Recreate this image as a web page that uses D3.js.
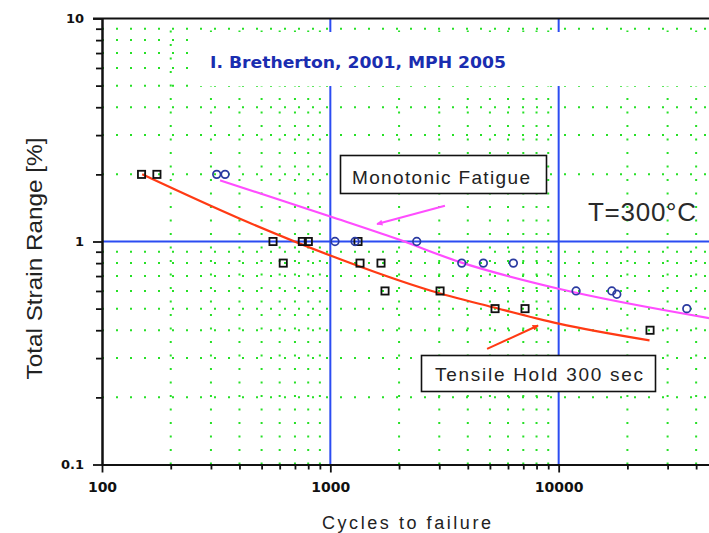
<!DOCTYPE html>
<html>
<head>
<meta charset="utf-8">
<script src="https://cdn.jsdelivr.net/npm/d3@7"></script>
<style>
  html, body { margin: 0; padding: 0; background: #fff; }
  svg { display: block; }
</style>
</head>
<body>
<svg id="chart" width="709" height="533"></svg>
<script>
// Tensile hold 300 s tests (open squares)
const holdCycles = [149, 174, 561, 622, 754, 801, 1322, 1349, 1667, 1736, 3024, 5265, 7124, 25130];
const holdStrain = [2.0, 2.0, 1.0, 0.8, 1.0, 1.0, 1.0, 0.8, 0.8, 0.6, 0.6, 0.5, 0.5, 0.4];

// Monotonic fatigue tests (open circles)
const monoCycles = [318, 346, 1048, 1283, 2390, 3763, 4679, 6333, 11920, 17090, 17970, 36400];
const monoStrain = [2.0, 2.0, 1.0, 1.0, 1.0, 0.8, 0.8, 0.8, 0.6, 0.6, 0.58, 0.5];

// Fitted curves
const holdFitCycles = [150, 402, 1000, 2734, 5160, 10000, 25000];
const holdFitStrain = [2.0, 1.264, 0.865, 0.603, 0.507, 0.428, 0.36];
const monoFitCycles = [329, 1000, 1953, 3698, 10000, 46000];
const monoFitStrain = [1.88, 1.295, 1.028, 0.808, 0.614, 0.453];

// Axis ticks
const xMajorTicks = [100, 1000, 10000];
const xTickLabels = ["100", "1000", "10000"];
const yMajorTicks = [0.1, 1, 10];
const yTickLabels = ["0.1", "1", "10"];
const xDecades = [100, 1000, 10000];
const yDecades = [0.1, 1];
const minorSteps = [2, 3, 4, 5, 6, 7, 8, 9];

// Annotations
const monoArrow = { from: [3177, 1.447], to: [1601, 1.198] };
const holdArrow = { from: [4858, 0.330], to: [8125, 0.420] };

(function draw() {
  const W = 709, H = 533;
  const svg = d3.select("#chart");

  const x = d3.scaleLog().domain([100, 100000]).range([102, 787]);
  const y = d3.scaleLog().domain([0.1, 10]).range([464.5, 18.5]);

  const xMinor = xDecades.flatMap(d => minorSteps.map(s => d * s));
  const yMinor = yDecades.flatMap(d => minorSteps.map(s => d * s));

  const pLeft = x.range()[0], pRight = W;
  const pTop = y.range()[1], pBottom = y.range()[0];

  const GREEN = "#27e027", BLUE = "#2b4cf2";

  // Dotted green grid
  const grid = svg.append("g");
  grid.selectAll("line.v").data(xMinor).join("line").attr("class", "v")
    .attr("x1", d => x(d)).attr("x2", d => x(d))
    .attr("y1", pBottom).attr("y2", pTop)
    .attr("stroke", GREEN).attr("stroke-width", 2)
    .attr("stroke-dasharray", "2,11.5");
  grid.selectAll("line.h").data(yMinor).join("line").attr("class", "h")
    .attr("x1", pLeft).attr("x2", pRight)
    .attr("y1", d => y(d)).attr("y2", d => y(d))
    .attr("stroke", GREEN).attr("stroke-width", 2)
    .attr("stroke-dasharray", "2,12");

  // Blue decade lines
  svg.append("g").selectAll("line").data([1000, 10000]).join("line")
    .attr("x1", d => x(d)).attr("x2", d => x(d))
    .attr("y1", pTop).attr("y2", pBottom)
    .attr("stroke", BLUE).attr("stroke-width", 2);
  svg.append("line")
    .attr("x1", pLeft).attr("x2", pRight)
    .attr("y1", y(1)).attr("y2", y(1))
    .attr("stroke", BLUE).attr("stroke-width", 2);

  // Title panel
  svg.append("rect").attr("x", 195).attr("y", 32).attr("width", 520).attr("height", 54).attr("fill", "#fff");
  svg.append("text")
    .attr("x", 210).attr("y", 68)
    .attr("font-family", "DejaVu Sans, sans-serif").attr("font-weight", "bold")
    .attr("font-size", 16.5).attr("fill", "#1a2db0")
    .attr("textLength", 296).attr("lengthAdjust", "spacingAndGlyphs")
    .text("I. Bretherton, 2001, MPH 2005");

  // Fit curves
  const line = d3.line().x(d => x(d[0])).y(d => y(d[1])).curve(d3.curveMonotoneX);
  svg.append("path")
    .datum(monoFitCycles.map((c, i) => [c, monoFitStrain[i]]))
    .attr("d", line).attr("fill", "none")
    .attr("stroke", "#ff4dff").attr("stroke-width", 2.2);
  svg.append("path")
    .datum(holdFitCycles.map((c, i) => [c, holdFitStrain[i]]))
    .attr("d", line).attr("fill", "none")
    .attr("stroke", "#ff3a14").attr("stroke-width", 2.2);

  // Markers
  svg.append("g").selectAll("rect")
    .data(holdCycles.map((c, i) => [c, holdStrain[i]]))
    .join("rect")
    .attr("x", d => x(d[0]) - 3.6).attr("y", d => y(d[1]) - 3.6)
    .attr("width", 7.2).attr("height", 7.2)
    .attr("fill", "none").attr("stroke", "#111").attr("stroke-width", 1.8);
  svg.append("g").selectAll("ellipse")
    .data(monoCycles.map((c, i) => [c, monoStrain[i]]))
    .join("ellipse")
    .attr("cx", d => x(d[0])).attr("cy", d => y(d[1]))
    .attr("rx", 3.8).attr("ry", 3.8)
    .attr("fill", "none").attr("stroke", "#2a3aa0").attr("stroke-width", 1.7);

  // Annotation boxes
  function labelBox(bx, by, bw, bh, tx, ty, tlen, size, txt) {
    svg.append("rect").attr("x", bx).attr("y", by).attr("width", bw).attr("height", bh)
      .attr("fill", "#fff").attr("stroke", "#111").attr("stroke-width", 1.6);
    svg.append("text").attr("x", tx).attr("y", ty)
      .attr("font-family", "Liberation Sans, Arial, sans-serif").attr("font-size", size)
      .attr("fill", "#222").attr("textLength", tlen).attr("lengthAdjust", "spacing")
      .text(txt);
  }
  labelBox(340.5, 155.5, 206, 38, 352, 184, 178, 19, "Monotonic Fatigue");
  labelBox(421.5, 355.5, 234, 36, 435, 381, 208, 19, "Tensile Hold 300 sec");

  // Arrows
  const defs = svg.append("defs");
  [["headPink", "#ff4dff"], ["headRed", "#ff3a14"]].forEach(([id, col]) => {
    defs.append("marker").attr("id", id)
      .attr("viewBox", "0 0 10 10").attr("refX", 9).attr("refY", 5)
      .attr("markerWidth", 9).attr("markerHeight", 6).attr("markerUnits", "userSpaceOnUse")
      .attr("orient", "auto")
      .append("path").attr("d", "M0,0L10,5L0,10Z").attr("fill", col);
  });
  svg.append("line")
    .attr("x1", x(monoArrow.from[0])).attr("y1", y(monoArrow.from[1]))
    .attr("x2", x(monoArrow.to[0])).attr("y2", y(monoArrow.to[1]))
    .attr("stroke", "#ff4dff").attr("stroke-width", 2).attr("marker-end", "url(#headPink)");
  svg.append("line")
    .attr("x1", x(holdArrow.from[0])).attr("y1", y(holdArrow.from[1]))
    .attr("x2", x(holdArrow.to[0])).attr("y2", y(holdArrow.to[1]))
    .attr("stroke", "#ff3a14").attr("stroke-width", 2).attr("marker-end", "url(#headRed)");

  // Temperature label
  svg.append("text").attr("x", 588).attr("y", 221)
    .attr("font-family", "Liberation Sans, Arial, sans-serif").attr("font-size", 26)
    .attr("fill", "#2a2a2a").attr("textLength", 108).attr("lengthAdjust", "spacing")
    .text("T=300°C");

  // Axes
  const tickFont = "DejaVu Sans, sans-serif";
  function styleAxis(g) {
    g.select(".domain").attr("stroke", "#111").attr("stroke-width", 2);
    g.selectAll(".tick line").attr("stroke", "#111").attr("stroke-width", 1.8);
    g.selectAll(".tick text").attr("font-family", tickFont).attr("font-weight", "bold").attr("fill", "#111");
  }
  svg.append("g").attr("transform", `translate(${pLeft},0)`)
    .call(d3.axisLeft(y).tickValues(yMinor).tickSize(6).tickSizeOuter(0).tickFormat(""))
    .call(styleAxis);
  svg.append("g").attr("transform", `translate(${pLeft},0)`)
    .call(d3.axisLeft(y).tickValues(yMajorTicks).tickSize(9).tickSizeOuter(0).tickPadding(9)
      .tickFormat((d, i) => yTickLabels[i]))
    .call(styleAxis)
    .call(g => g.selectAll(".tick text").attr("font-size", 13));
  svg.append("g").attr("transform", `translate(0,${pBottom})`)
    .call(d3.axisBottom(x).tickValues(xMinor).tickSize(5).tickSizeOuter(0).tickFormat(""))
    .call(styleAxis);
  svg.append("g").attr("transform", `translate(0,${pBottom})`)
    .call(d3.axisBottom(x).tickValues(xMajorTicks).tickSize(8).tickSizeOuter(0).tickPadding(10)
      .tickFormat((d, i) => xTickLabels[i]))
    .call(styleAxis)
    .call(g => g.selectAll(".tick text").attr("font-size", 14));

  // Top frame line
  svg.append("line").attr("x1", pLeft - 9).attr("x2", pRight)
    .attr("y1", pTop).attr("y2", pTop).attr("stroke", "#111").attr("stroke-width", 2);

  // Axis titles
  svg.append("text")
    .attr("transform", `translate(42,258.5) rotate(-90)`)
    .attr("text-anchor", "middle")
    .attr("font-family", "Liberation Sans, Arial, sans-serif").attr("font-size", 22)
    .attr("fill", "#222").attr("textLength", 242).attr("lengthAdjust", "spacingAndGlyphs")
    .text("Total Strain Range [%]");
  svg.append("text")
    .attr("x", 322).attr("y", 529)
    .attr("font-family", "Liberation Sans, Arial, sans-serif").attr("font-size", 18)
    .attr("fill", "#222").attr("textLength", 169).attr("lengthAdjust", "spacing")
    .text("Cycles to failure");
})();
</script>
</body>
</html>
